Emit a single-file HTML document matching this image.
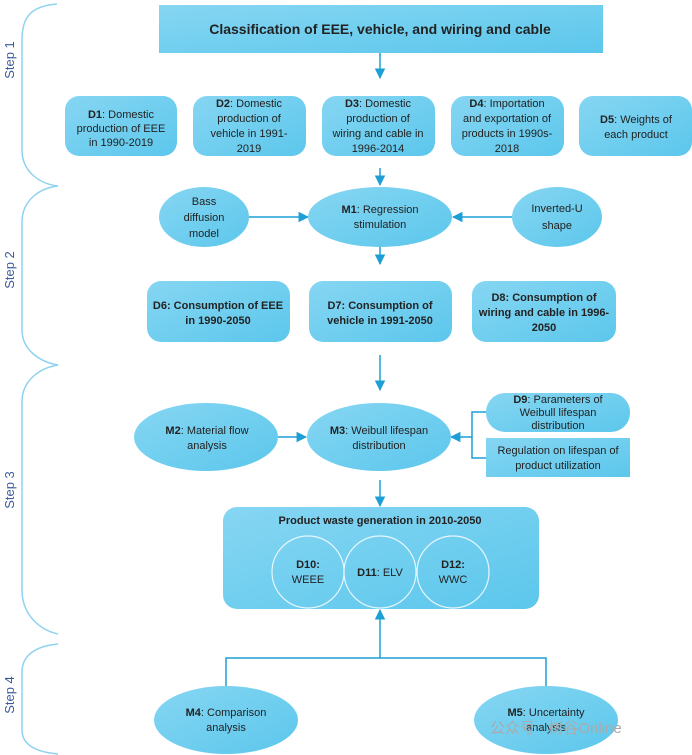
<!DOCTYPE html>
<html><head><meta charset="utf-8"><style>
html,body{margin:0;padding:0;background:#fff;}
svg{display:block;font-family:"Liberation Sans",sans-serif;}
text{fill:#222;font-size:11px;}
</style></head><body>
<svg width="692" height="755" viewBox="0 0 692 755" xmlns="http://www.w3.org/2000/svg">
<defs>
<linearGradient id="g" x1="0" y1="0" x2="1" y2="1"><stop offset="0" stop-color="#86d6f2"/><stop offset="1" stop-color="#5cc7ec"/></linearGradient>
<marker id="a" viewBox="0 0 10 10" refX="9" refY="5" markerWidth="7" markerHeight="7" orient="auto"><path d="M0,0L10,5L0,10z" fill="#1d9fd6"/></marker>
</defs>
<!-- braces -->
<g fill="none" stroke="#8fd3ee" stroke-width="1.5">
<path d="M57,4 C30,6 22,18 22,40 L22,150 C22,172 40,184 58,186 C40,188 22,200 22,222 L22,330 C22,350 40,362 58,365 C40,368 22,380 22,402 L22,590 C22,615 40,630 58,634"/>
<path d="M58,644 C36,646 22,655 22,672 L22,730 C22,745 36,752 58,754"/>
</g>
<g style="font-size:13px" fill="#3d5a9e">
<text x="14" y="60" transform="rotate(-90 14 60)" text-anchor="middle" style="fill:#3d5a9e;font-size:13px">Step 1</text>
<text x="14" y="270" transform="rotate(-90 14 270)" text-anchor="middle" style="fill:#3d5a9e;font-size:13px">Step 2</text>
<text x="14" y="490" transform="rotate(-90 14 490)" text-anchor="middle" style="fill:#3d5a9e;font-size:13px">Step 3</text>
<text x="14" y="695" transform="rotate(-90 14 695)" text-anchor="middle" style="fill:#3d5a9e;font-size:13px">Step 4</text>
</g>
<!-- arrows -->
<g stroke="#1d9fd6" stroke-width="1.5" fill="none">
<line x1="380" y1="53" x2="380" y2="78" marker-end="url(#a)"/>
<line x1="380" y1="168" x2="380" y2="185" marker-end="url(#a)"/>
<line x1="249" y1="217" x2="308" y2="217" marker-end="url(#a)"/>
<line x1="512" y1="217" x2="453" y2="217" marker-end="url(#a)"/>
<line x1="380" y1="247" x2="380" y2="264" marker-end="url(#a)"/>
<line x1="380" y1="355" x2="380" y2="390" marker-end="url(#a)"/>
<line x1="278" y1="437" x2="306" y2="437" marker-end="url(#a)"/>
<path d="M486,412 L472,412 L472,458 L486,458"/>
<line x1="472" y1="437" x2="451" y2="437" marker-end="url(#a)"/>
<line x1="380" y1="480" x2="380" y2="506" marker-end="url(#a)"/>
<path d="M226,686 L226,658 L546,658 L546,686"/>
<line x1="380" y1="658" x2="380" y2="610" marker-end="url(#a)"/>
</g>
<!-- shapes -->
<g fill="url(#g)">
<rect x="159" y="5" width="444" height="48"/>
<rect x="65" y="96" width="112" height="60" rx="14"/>
<rect x="193" y="96" width="113" height="60" rx="14"/>
<rect x="322" y="96" width="113" height="60" rx="14"/>
<rect x="451" y="96" width="113" height="60" rx="14"/>
<rect x="579" y="96" width="113" height="60" rx="14"/>
<ellipse cx="204" cy="217" rx="45" ry="30"/>
<ellipse cx="380" cy="217" rx="72" ry="30"/>
<ellipse cx="557" cy="217" rx="45" ry="30"/>
<rect x="147" y="281" width="143" height="61" rx="14"/>
<rect x="309" y="281" width="143" height="61" rx="14"/>
<rect x="472" y="281" width="144" height="61" rx="14"/>
<ellipse cx="206" cy="437" rx="72" ry="34"/>
<ellipse cx="379" cy="437" rx="72" ry="34"/>
<rect x="486" y="393" width="144" height="39" rx="19"/>
<rect x="486" y="438" width="144" height="39"/>
<rect x="223" y="507" width="316" height="102" rx="14"/>
<ellipse cx="226" cy="720" rx="72" ry="34"/>
<ellipse cx="546" cy="720" rx="72" ry="34"/>
</g>
<g fill="none" stroke="#e6f6fc" stroke-width="1.2">
<ellipse cx="308" cy="572" rx="36" ry="36"/>
<ellipse cx="380" cy="572" rx="36" ry="36"/>
<ellipse cx="453" cy="572" rx="36" ry="36"/>
</g>
<!-- text -->
<g text-anchor="middle">
<text x="380" y="34" style="font-size:14px;font-weight:bold">Classification of EEE, vehicle, and wiring and cable</text>
<text x="121" y="118"><tspan font-weight="bold">D1</tspan>: Domestic</text><text x="121" y="132">production of EEE</text><text x="121" y="146">in 1990-2019</text>
<text x="249" y="107"><tspan font-weight="bold">D2</tspan>: Domestic</text><text x="249" y="122">production of</text><text x="249" y="137">vehicle in 1991-</text><text x="249" y="152">2019</text>
<text x="378" y="107"><tspan font-weight="bold">D3</tspan>: Domestic</text><text x="378" y="122">production of</text><text x="378" y="137">wiring and cable in</text><text x="378" y="152">1996-2014</text>
<text x="507" y="107"><tspan font-weight="bold">D4</tspan>: Importation</text><text x="507" y="122">and exportation of</text><text x="507" y="137">products in 1990s-</text><text x="507" y="152">2018</text>
<text x="636" y="123"><tspan font-weight="bold">D5</tspan>: Weights of</text><text x="636" y="138">each product</text>
<text x="204" y="205">Bass</text><text x="204" y="221">diffusion</text><text x="204" y="237">model</text>
<text x="380" y="213"><tspan font-weight="bold">M1</tspan>: Regression</text><text x="380" y="228">stimulation</text>
<text x="557" y="212">Inverted-U</text><text x="557" y="229">shape</text>
<text x="218" y="309" font-weight="bold">D6: Consumption of EEE</text><text x="218" y="324" font-weight="bold">in 1990-2050</text>
<text x="380" y="309" font-weight="bold">D7: Consumption of</text><text x="380" y="324" font-weight="bold">vehicle in 1991-2050</text>
<text x="544" y="301" font-weight="bold">D8: Consumption of</text><text x="544" y="316" font-weight="bold">wiring and cable in 1996-</text><text x="544" y="331" font-weight="bold">2050</text>
<text x="207" y="434"><tspan font-weight="bold">M2</tspan>: Material flow</text><text x="207" y="449">analysis</text>
<text x="379" y="434"><tspan font-weight="bold">M3</tspan>: Weibull lifespan</text><text x="379" y="449">distribution</text>
<text x="558" y="403"><tspan font-weight="bold">D9</tspan>: Parameters of</text><text x="558" y="416">Weibull lifespan</text><text x="558" y="429">distribution</text>
<text x="558" y="454">Regulation on lifespan of</text><text x="558" y="469">product utilization</text>
<text x="380" y="524" font-weight="bold">Product waste generation in 2010-2050</text>
<text x="308" y="568" font-weight="bold">D10:</text><text x="308" y="583">WEEE</text>
<text x="380" y="576"><tspan font-weight="bold">D11</tspan>:  ELV</text>
<text x="453" y="568" font-weight="bold">D12:</text><text x="453" y="583">WWC</text>
<text x="226" y="716"><tspan font-weight="bold">M4</tspan>: Comparison</text><text x="226" y="731">analysis</text>
<text x="546" y="716"><tspan font-weight="bold">M5</tspan>: Uncertainty</text><text x="546" y="731">analysis</text>
</g>
<text x="490" y="733" style="fill:#aaa;font-size:15px;font-family:'Liberation Sans','Noto Sans CJK SC',sans-serif">公众号 · 树谷Online</text>
</svg>
</body></html>
